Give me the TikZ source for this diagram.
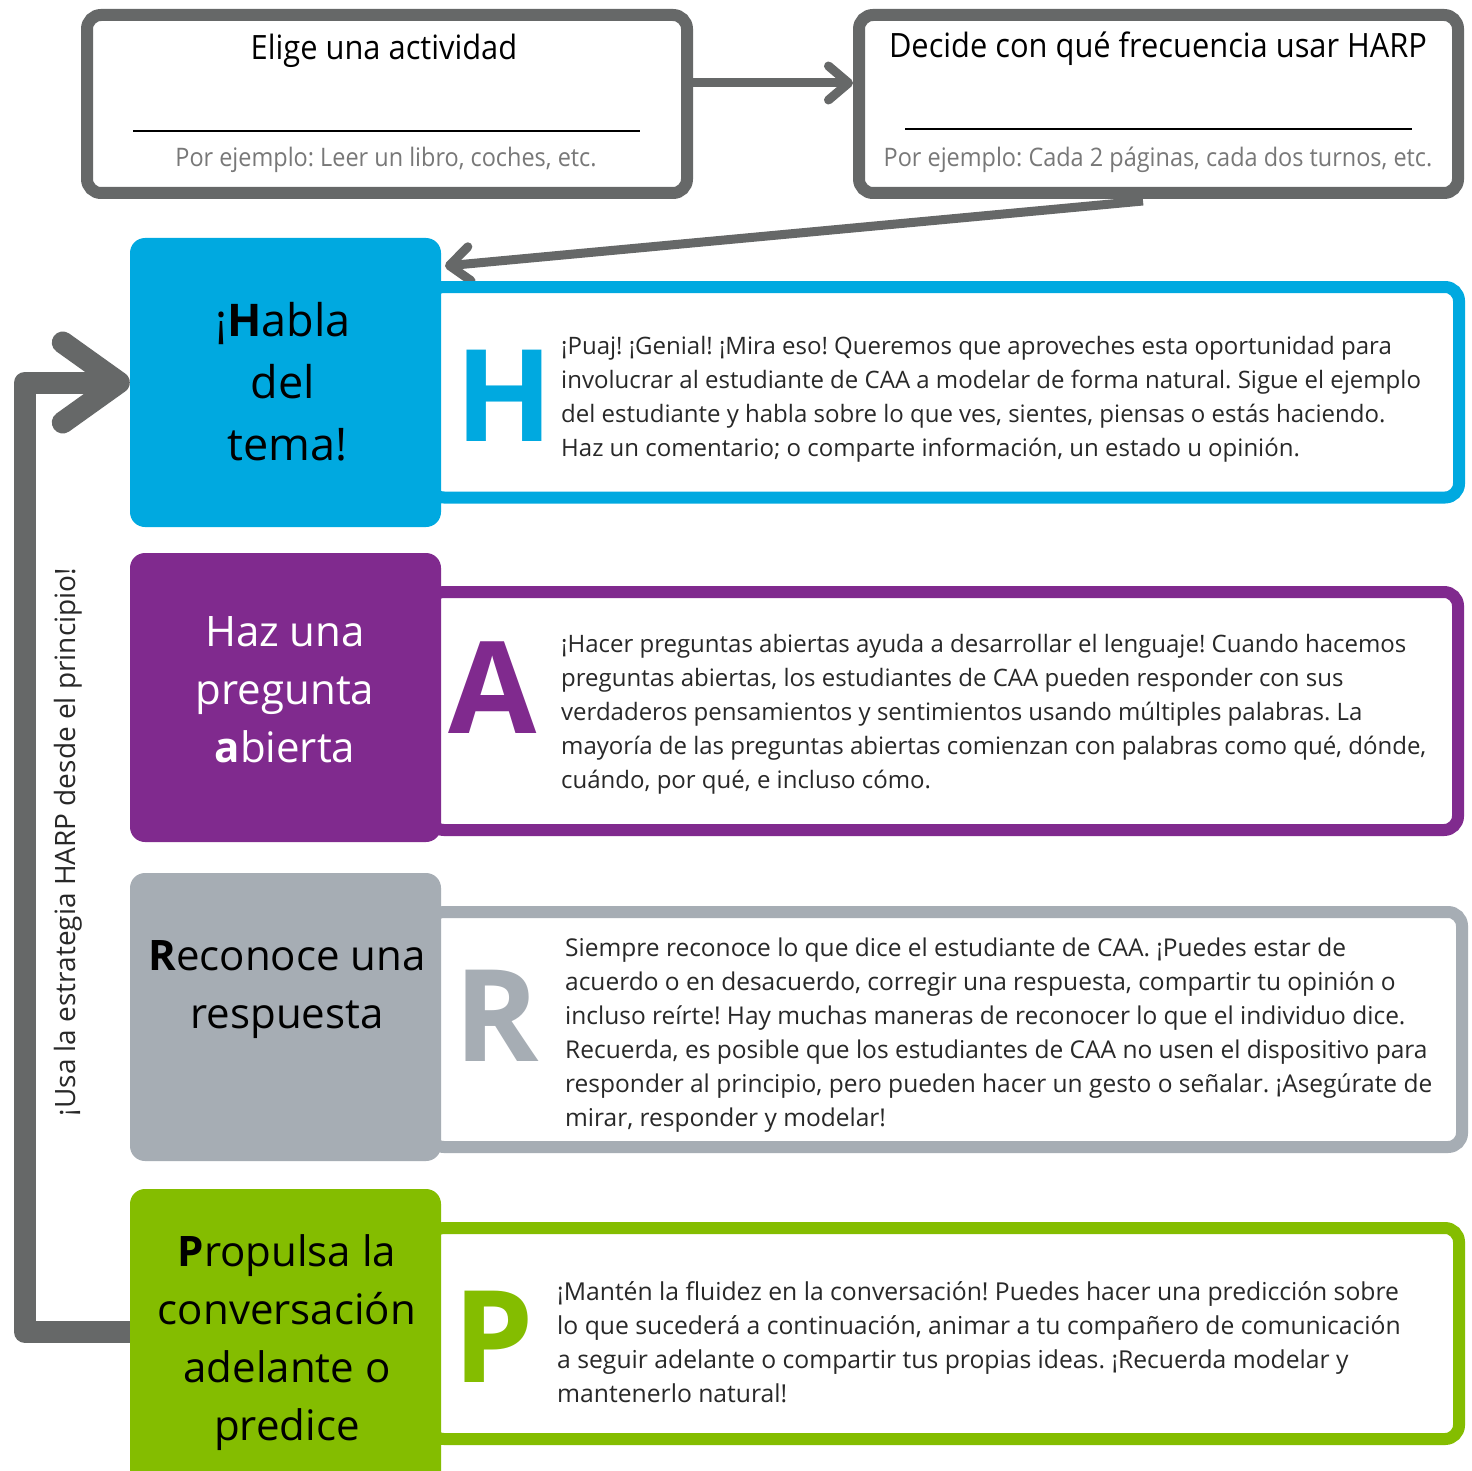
\documentclass[tikz,border=0pt]{standalone}
\usepackage{fontspec}
\setmainfont{Open Sans}
\newfontfamily\condfont[FakeStretch=0.92]{Open Sans}
\usetikzlibrary{arrows.meta}
\definecolor{hblue}{RGB}{0,169,224}
\definecolor{apurple}{RGB}{128,42,142}
\definecolor{rgray}{RGB}{166,173,180}
\definecolor{pgreen}{RGB}{132,189,0}
\definecolor{agray}{RGB}{102,104,104}
\definecolor{bodytext}{RGB}{40,40,40}
\definecolor{hinttext}{RGB}{120,120,120}
\tikzset{
  topbox/.style={draw=agray, line width=12pt, rounded corners=14pt, fill=white, minimum width=600pt, minimum height=178pt, inner sep=0pt},
  frame/.style={line width=12pt, rounded corners=14pt, fill=white, inner sep=0pt},
  lbox/.style={rounded corners=15pt, minimum width=311pt, inner sep=0pt},
  heading/.style={align=center, inner sep=0pt, font=\fontsize{42}{58}\selectfont},
  bigletter/.style={inner sep=0pt, font=\fontsize{128}{128}\selectfont\bfseries},
  body/.style={anchor=west, align=left, inner sep=0pt, text=bodytext, font=\fontsize{24}{34}\selectfont},
  toptitle/.style={inner sep=0pt, font=\condfont\fontsize{33.5}{40}\selectfont},
  tophint/.style={inner sep=0pt, text=hinttext, font=\condfont\fontsize{25.5}{30}\selectfont},
  thinarrow/.style={draw=agray, line width=9pt, -{Straight Barb[length=20pt, width=34pt, round]}},
  looparrow/.style={draw=agray, line width=22pt, line join=round, -{Straight Barb[length=56pt, width=80pt, round]}}
}
\begin{document}
\frenchspacing
\begin{tikzpicture}[x=1pt,y=-1pt]
\clip (0,0) rectangle (1471,1471);
\fill[white] (0,0) rectangle (1471,1471);

% top boxes
\node[topbox] (elige) at (387,104) {};
\node[topbox, minimum width=599pt] (decide) at (1158.5,104) {};
\node[toptitle] (eligeT) at (384,51) {Elige una actividad};
\node[tophint] (eligeH) at (386,160) {Por ejemplo: Leer un libro, coches, etc.};
\node[toptitle] (decideT) at (1158,49) {Decide con qué frecuencia usar HARP};
\node[tophint] (decideH) at (1158,160) {Por ejemplo: Cada 2 páginas, cada dos turnos, etc.};
\draw[line width=2pt] (133,131) -- (640,131);
\draw[line width=2pt] (905,129) -- (1412,129);

% arrows between top boxes
\coordinate (a1y) at (0,83);
\draw[thinarrow] (elige.east |- a1y) -- (decide.west |- a1y);
\coordinate (a2s) at (1143,201);
\coordinate (a2e) at (445,266);
\draw[thinarrow] (a2s) -- (a2e);

% frames
\node[frame, draw=hblue, minimum width=1029pt, minimum height=210.5pt] (hframe) at (944.5,392.25) {};
\node[frame, draw=apurple, minimum width=1028pt, minimum height=238pt] (aframe) at (944,711) {};
\node[frame, draw=rgray, minimum width=1032pt, minimum height=235pt] (rframe) at (946,1029.5) {};
\node[frame, draw=pgreen, minimum width=1029pt, minimum height=211pt] (pframe) at (944.5,1333.5) {};

% left boxes
\node[lbox, fill=hblue, minimum height=289pt] (hbox) at (285.5,382.5) {};
\node[lbox, fill=apurple, minimum height=289pt] (abox) at (285.5,697.5) {};
\node[lbox, fill=rgray, minimum height=288pt] (rbox) at (285.5,1017) {};
\node[lbox, fill=pgreen, minimum height=311pt] (pbox) at (285.5,1344.5) {};

% headings
\node[heading, font=\fontsize{45}{62}\selectfont] (hhead) at (283,382) {¡\textbf{H}abla\\del\\\hspace*{9pt}tema!};
\node[heading, text=white] (ahead) at (285,690) {Haz una\\pregunta\\\textbf{a}bierta};
\node[heading] (rhead) at (287,990) {\textbf{R}econoce una\\respuesta};
\node[heading] (phead) at (287,1343) {\textbf{P}ropulsa la\\conversación\\adelante o\\predice};

% big letters
\node[bigletter, text=hblue] (hL) at (504,396) {H};
\node[bigletter, text=apurple] (aL) at (493,688) {A};
\node[bigletter, text=rgray] (rL) at (497,1016) {R};
\node[bigletter, text=pgreen] (pL) at (494,1337) {P};

% body texts
\node[body] (htext) at (561,399) {¡Puaj! ¡Genial! ¡Mira eso! Queremos que aproveches esta oportunidad para\\involucrar al estudiante de CAA a modelar de forma natural. Sigue el ejemplo\\del estudiante y habla sobre lo que ves, sientes, piensas o estás haciendo.\\Haz un comentario; o comparte información, un estado u opinión.};
\node[body] (atext) at (561,714) {¡Hacer preguntas abiertas ayuda a desarrollar el lenguaje! Cuando hacemos\\preguntas abiertas, los estudiantes de CAA pueden responder con sus\\verdaderos pensamientos y sentimientos usando múltiples palabras. La\\mayoría de las preguntas abiertas comienzan con palabras como qué, dónde,\\cuándo, por qué, e incluso cómo.};
\node[body, font=\fontsize{24.5}{34}\selectfont] (rtext) at (565,1035) {Siempre reconoce lo que dice el estudiante de CAA. ¡Puedes estar de\\acuerdo o en desacuerdo, corregir una respuesta, compartir tu opinión o\\incluso reírte! Hay muchas maneras de reconocer lo que el individuo dice.\\Recuerda, es posible que los estudiantes de CAA no usen el dispositivo para\\responder al principio, pero pueden hacer un gesto o señalar. ¡Asegúrate de\\mirar, responder y modelar!};
\node[body, font=\fontsize{24.7}{34}\selectfont] (ptext) at (557,1342) {¡Mantén la fluidez en la conversación! Puedes hacer una predicción sobre\\lo que sucederá a continuación, animar a tu compañero de comunicación\\a seguir adelante o compartir tus propias ideas. ¡Recuerda modelar y\\mantenerlo natural!};

% loop arrow
\coordinate (lpy) at (0,1332);
\coordinate (lpx) at (25,0);
\draw[looparrow] (pbox.west |- lpy) -- (lpx |- lpy) |- (hbox.west);

% vertical label
\node[rotate=90, inner sep=0pt, text=bodytext, font=\fontsize{28}{32}\selectfont] (vlabel) at (68,842) {¡Usa la estrategia HARP desde el principio!};
\end{tikzpicture}
\end{document}
